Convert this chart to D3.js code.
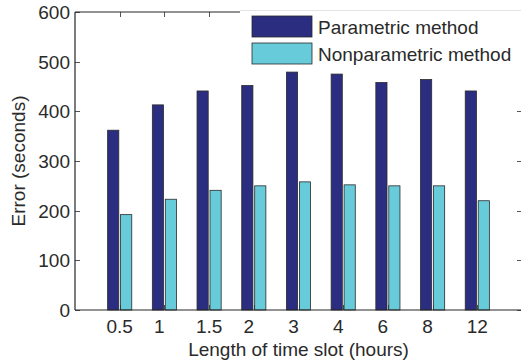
<!DOCTYPE html>
<html>
<head>
<meta charset="utf-8">
<script src="https://cdnjs.cloudflare.com/ajax/libs/d3/7.8.5/d3.min.js"></script>
<style>
  body { margin: 0; background: #fff; }
  text { font-family: "Liberation Sans", Arial, sans-serif; fill: #2a2a2a; }
</style>
</head>
<body>
<div id="chart"></div>
<script>
// values
const slotLabels = ["0.5", "1", "1.5", "2", "3", "4", "6", "8", "12"];
const parametric = [362, 413, 441, 452, 479, 475, 458, 464, 441];
const nonparametric = [192, 223, 241, 250, 258, 252, 250, 250, 220];
const yTicks = [0, 100, 200, 300, 400, 500, 600];
const seriesNames = ["Parametric method", "Nonparametric method"];

(() => {
const W = 521, H = 364;
const pLeft = 75, pRight = 522, pTop = 12, pBottom = 310;
const fs = "19px";

const svg = d3.select("#chart").append("svg")
  .attr("width", W).attr("height", H);

// x in group units: group i sits at i+1, axis spans 0..10
const x = d3.scaleLinear().domain([0, 10]).range([pLeft, pRight]);
const y = d3.scaleLinear().domain([0, 600]).range([pBottom, pTop]);
const color = d3.scaleOrdinal().domain(seriesNames).range(["#2b2e80", "#68cbda"]);

const barW = 0.25, off = 0.145;
const groups = slotLabels.map((s, i) => ({ pos: i + 1, label: s, vals: [parametric[i], nonparametric[i]] }));

// ticks (inward, drawn under the bars)
const tickLen = 5;
const tk = svg.append("g").attr("stroke", "#555").attr("stroke-width", 1);
groups.forEach(g => {
  const px = Math.round(x(g.pos)) + 0.5;
  tk.append("line").attr("x1", px).attr("x2", px).attr("y1", pBottom).attr("y2", pBottom - tickLen);
  tk.append("line").attr("x1", px).attr("x2", px).attr("y1", pTop).attr("y2", pTop + tickLen);
});
yTicks.forEach(v => {
  const py = Math.round(y(v)) + 0.5;
  tk.append("line").attr("x1", pLeft).attr("x2", pLeft + tickLen).attr("y1", py).attr("y2", py);
  tk.append("line").attr("x1", pRight).attr("x2", pRight - tickLen).attr("y1", py).attr("y2", py);
});

// bars
const gg = svg.selectAll(".grp").data(groups).enter().append("g").attr("class", "grp");
gg.selectAll("rect")
  .data(d => d.vals.map((v, k) => ({ pos: d.pos, v: v, k: k })))
  .enter().append("rect")
  .attr("x", d => x(d.pos + (d.k === 0 ? -off : off) - barW / 2))
  .attr("width", x(barW) - x(0))
  .attr("y", d => y(d.v))
  .attr("height", d => y(0) - y(d.v))
  .attr("fill", d => color(seriesNames[d.k]))
  .attr("stroke", "#2a2a2a")
  .attr("stroke-width", 0.8);

// axis box
const ax = svg.append("g").attr("stroke", "#262626").attr("stroke-width", 1.2).attr("fill", "none");
ax.append("line").attr("x1", pLeft).attr("x2", pLeft).attr("y1", pTop).attr("y2", pBottom);
ax.append("line").attr("x1", pLeft).attr("x2", pRight).attr("y1", pBottom).attr("y2", pBottom);
ax.append("line").attr("x1", pLeft).attr("x2", pRight).attr("y1", pTop).attr("y2", pTop);
ax.append("line").attr("x1", pRight).attr("x2", pRight).attr("y1", pTop).attr("y2", pBottom);

// y tick labels
svg.append("g").selectAll("text").data(yTicks).enter().append("text")
  .attr("x", pLeft - 5)
  .attr("y", d => y(d))
  .attr("dy", "0.36em")
  .attr("text-anchor", "end")
  .style("font-size", fs)
  .text(d => d);

// x tick labels (single-character labels sit a bit left, as in the original)
svg.append("g").selectAll("text").data(groups).enter().append("text")
  .attr("x", d => x(d.pos) - (d.label.length === 1 ? 5 : 0))
  .attr("y", 333)
  .attr("text-anchor", "middle")
  .style("font-size", fs)
  .text(d => d.label);

// axis titles
svg.append("text")
  .attr("x", (pLeft + pRight) / 2).attr("y", 356)
  .attr("text-anchor", "middle")
  .style("font-size", fs)
  .text("Length of time slot (hours)");

svg.append("text")
  .attr("transform", "translate(25," + ((pTop + pBottom) / 2) + ") rotate(-90)")
  .attr("text-anchor", "middle")
  .style("font-size", fs)
  .text("Error (seconds)");

// legend
const lg = svg.append("g").attr("transform", "translate(240,10)");
lg.append("rect").attr("x", 0).attr("y", 0).attr("width", 290).attr("height", 60).attr("fill", "#fff");
lg.append("line").attr("x1", 0).attr("x2", 290).attr("y1", 0.5).attr("y2", 0.5)
  .attr("stroke", "#e4e4e4").attr("stroke-width", 1);
const li = lg.selectAll(".item").data(seriesNames).enter().append("g")
  .attr("transform", (d, i) => "translate(12," + (6 + i * 27) + ")");
li.append("rect").attr("width", 60).attr("height", 21)
  .attr("fill", d => color(d)).attr("stroke", "#2a2a2a").attr("stroke-width", 0.8);
li.append("text").attr("x", 66).attr("y", 11).attr("dy", "0.36em")
  .style("font-size", fs)
  .text(d => d);
})();
</script>
</body>
</html>
